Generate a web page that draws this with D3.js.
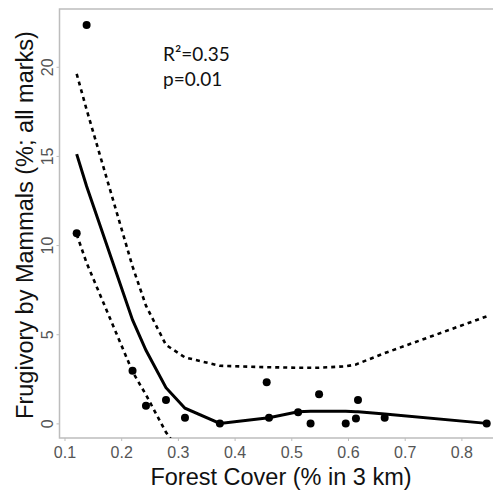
<!DOCTYPE html>
<html>
<head>
<meta charset="utf-8">
<script src="https://cdn.jsdelivr.net/npm/d3@7"></script>
<style>
  body { margin: 0; background: #fff; }
  svg { display: block; }
</style>
</head>
<body>
<div id="chart"></div>
<script>
// observed points (forest cover, % frugivory)
var pointX = [0.1215, 0.139, 0.220, 0.2437, 0.279, 0.3125, 0.374, 0.4566, 0.4607, 0.512, 0.534, 0.549, 0.596, 0.614, 0.6176, 0.6647, 0.8446];
var pointY = [10.66, 22.34, 2.95, 0.99, 1.31, 0.31, 0, 2.30, 0.31, 0.62, 0, 1.64, 0, 0.28, 1.31, 0.31, 0];

// fitted curve and confidence band, at the sorted x values
var fitX  = [0.1215, 0.139, 0.220, 0.2437, 0.279, 0.3125, 0.374, 0.4566, 0.4607, 0.512, 0.534, 0.549, 0.596, 0.614, 0.6176, 0.6647, 0.8446];
var fitY  = [15.1, 13.3, 5.8, 4.1, 2.0, 0.85, 0.0, 0.3, 0.32, 0.65, 0.68, 0.68, 0.68, 0.65, 0.65, 0.52, 0.0];
var upper = [19.6, 17.6, 8.8, 6.6, 4.4, 3.7, 3.23, 3.15, 3.15, 3.12, 3.12, 3.12, 3.2, 3.3, 3.35, 3.94, 6.0];
var lower = [10.6, 9.0, 2.9, 1.6, -0.5, -2.0, -3.2, -2.5, -2.5, -1.8, -1.8, -1.8, -1.8, -2.0, -2.0, -2.9, -6.0];

var xTicks = [0.1, 0.2, 0.3, 0.4, 0.5, 0.6, 0.7, 0.8];
var yTicks = [0, 5, 10, 15, 20];
var statLines = ["R\u00B2=0.35", "p=0.01"];

(function () {
  var width = 493, height = 491;
  var pLeft = 59.5, pTop = 9, pRight = 496, pBottom = 438;
  var axisFont = "Liberation Sans, Arial, sans-serif";

  var x = d3.scaleLinear().domain([0.0912, 0.1 + (pRight - 64.5) / 567]).range([pLeft, pRight]);
  var y = d3.scaleLinear().domain([-0.82, 23.24]).range([pBottom, pTop]);

  var svg = d3.select("#chart").append("svg")
      .attr("width", width)
      .attr("height", height);

  svg.append("defs").append("clipPath").attr("id", "clip")
    .append("rect")
      .attr("x", pLeft).attr("y", pTop)
      .attr("width", pRight - pLeft).attr("height", pBottom - pTop);

  // box
  svg.append("rect")
      .attr("x", pLeft).attr("y", pTop)
      .attr("width", pRight - pLeft).attr("height", pBottom - pTop)
      .attr("fill", "none")
      .attr("stroke", "#bdbdbd")
      .attr("stroke-width", 1.5);

  // x axis
  var xAxis = svg.append("g")
      .attr("transform", "translate(0," + pBottom + ")")
      .call(d3.axisBottom(x).tickValues(xTicks).tickSize(3).tickPadding(6).tickFormat(d3.format(".1f")));
  xAxis.select(".domain").remove();
  xAxis.selectAll("line").attr("stroke", "#bdbdbd");
  xAxis.selectAll("text")
      .attr("fill", "#555")
      .attr("font-family", axisFont)
      .attr("font-size", "16px");

  // y axis, labels parallel to the axis
  var yAxis = svg.append("g")
      .attr("transform", "translate(" + pLeft + ",0)")
      .call(d3.axisLeft(y).tickValues(yTicks).tickSize(3).tickFormat(d3.format("d")));
  yAxis.select(".domain").remove();
  yAxis.selectAll("line").attr("stroke", "#bdbdbd");
  yAxis.selectAll("text")
      .attr("fill", "#555")
      .attr("font-family", axisFont)
      .attr("font-size", "16px")
      .attr("x", null).attr("dy", null)
      .attr("text-anchor", "middle")
      .attr("transform", "translate(-7,0) rotate(-90)");

  // axis titles
  svg.append("text")
      .attr("x", 281).attr("y", 485)
      .attr("text-anchor", "middle")
      .attr("font-family", axisFont)
      .attr("font-size", "23.5px")
      .attr("fill", "#111")
      .text("Forest Cover (% in 3 km)");

  svg.append("text")
      .attr("transform", "translate(33,225) rotate(-90)")
      .attr("text-anchor", "middle")
      .attr("font-family", axisFont)
      .attr("font-size", "23.5px")
      .attr("fill", "#111")
      .text("Frugivory by Mammals (%; all marks)");

  var plot = svg.append("g").attr("clip-path", "url(#clip)");

  var line = d3.line()
      .x(function(d) { return x(d[0]); })
      .y(function(d) { return y(d[1]); });

  [upper, lower].forEach(function(band) {
    plot.append("path").datum(d3.zip(fitX, band))
        .attr("d", line)
        .attr("fill", "none").attr("stroke", "#000")
        .attr("stroke-width", 2.6)
        .attr("stroke-dasharray", "4,4");
  });

  plot.append("path").datum(d3.zip(fitX, fitY))
      .attr("d", line)
      .attr("fill", "none").attr("stroke", "#000")
      .attr("stroke-width", 3);

  plot.selectAll("circle")
      .data(d3.zip(pointX, pointY))
      .enter().append("circle")
      .attr("cx", function(d) { return x(d[0]); })
      .attr("cy", function(d) { return y(d[1]); })
      .attr("r", 4)
      .attr("fill", "#000");

  // stats
  svg.selectAll(".stat")
      .data(statLines)
      .enter().append("text")
      .attr("class", "stat")
      .attr("x", 163)
      .attr("y", function(d, i) { return 61 + i * 25; })
      .attr("font-family", "Lato, Open Sans, sans-serif")
      .attr("font-size", "19px")
      .attr("fill", "#111")
      .text(function(d) { return d; });
})();
</script>
</body>
</html>
